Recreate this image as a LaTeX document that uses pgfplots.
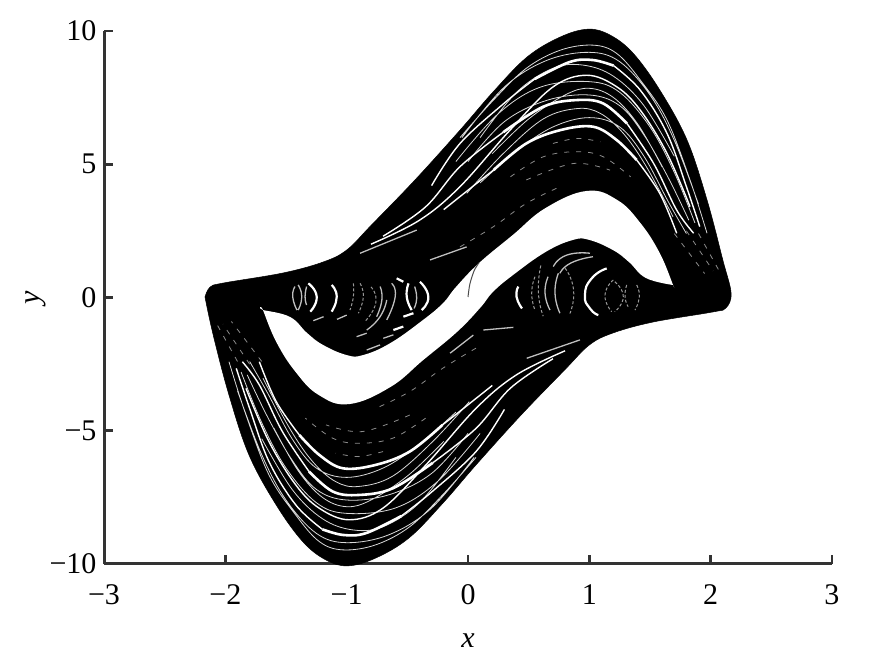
\documentclass[border=0pt]{standalone}
\usepackage{fontspec}
\setmainfont{Liberation Serif}
\usepackage{pgfplots}
\usepackage{pgfplotstable}
\pgfplotsset{compat=1.18}

% white arcs in the upper band, also drawn turned by 180 degrees for the lower band
\pgfplotstableread{
x y
.21 4.78
.48 5.78
.76 6.28
1.03 6.41
1.225 5.91
1.39 5.16
nan nan
.29 6.2
.62 7.16
.90 7.41
1.115 7.28
1.31 6.53
nan nan
.55 8.2
.84 8.84
1.03 8.91
1.2 8.7
}\bandthick
\pgfplotstableread{
x y
-.2 3.3
.07 4.28
.21 4.78
nan nan
1.39 5.16
1.58 3.91
1.72 2.41
nan nan
-.7 2.3
-.35 3.4
-.066 4.91
.29 6.2
nan nan
1.31 6.53
1.53 5.03
1.72 3.28
1.86 2.41
nan nan
-.3 4.2
-.066 5.78
.30 7.3
.55 8.2
nan nan
1.2 8.7
1.42 7.78
1.64 6.16
1.80 4.16
1.91 2.66
nan nan
-.8 2.0
-.4 2.9
-.066 4.16
.35 6.3
.70 7.9
.98 8.34
1.225 7.91
1.42 7.03
1.64 5.41
1.83 3.41
}\bandmid
\pgfplotstableread{
x y
-.066 6.0
.21 7.41
.48 8.6
.76 9.28
1.03 9.47
1.225 9.16
1.42 8.16
1.64 6.66
1.83 4.41
1.97 2.41
nan nan
-.01 3.91
.29 5.4
.62 6.7
.90 7.09
1.09 6.91
1.28 6.16
1.47 4.91
1.69 3.03
nan nan
.1 6.0
.40 7.7
.70 8.6
.95 8.72
1.2 8.3
1.45 7.2
1.7 5.3
nan nan
.2 5.4
.5 6.7
.8 7.6
1.0 7.85
1.2 7.5
1.4 6.5
1.6 4.9
nan nan
.1 4.3
.4 5.5
.7 6.4
1 6.75
1.25 6.4
1.45 5.3
1.65 3.6
1.8 2.4
nan nan
0 5.1
.3 6.6
.65 7.4
1 7.6
1.25 7.2
1.45 6.1
1.65 4.5
1.82 2.9
nan nan
-.1 5.1
.25 6.9
.6 7.9
1 8.1
1.25 7.7
1.5 6.4
1.7 4.7
1.87 2.8
nan nan
-.05 6
.3 7.9
.65 8.9
1 9.2
1.25 8.85
1.5 7.6
1.7 5.9
1.9 3.5
}\bandthin
% broken marks in the dark inner band
\pgfplotstableread{
x y
-.066 1.9
.21 2.66
.48 3.53
.76 4.16
nan nan
.48 4.41
.87 5.03
1.17 4.78
nan nan
.35 4.53
.62 5.28
.90 5.47
1.115 5.28
1.34 4.53
nan nan
.70 5.78
.90 5.97
1.09 5.84
nan nan
1.7 2.4
1.95 .9
nan nan
1.8 2.5
2.02 1.0
nan nan
1.9 2.4
2.07 1.0
}\banddash
% rings in the two lobes
\pgfplotstableread{
x y
.415 .41
.40 .03
.445 -.41
nan nan
1.143 1.09
1.02 .72
.964 .09
1.005 -.41
1.074 -.66
nan nan
-1.124 .47
-1.082 .03
-1.124 -.53
nan nan
-1.316 .53
-1.247 .03
-1.30 -.53
nan nan
-.49 .53
-.505 .03
-.464 -.47
nan nan
-.396 .59
-.327 .03
-.382 -.47
nan nan
-.588 .72
-.533 .59
nan nan
-.615 -1.22
-.533 -1.09
nan nan
-.533 -.72
-.45 -.59
}\ringthick
\pgfplotstableread{
x y
.66 .78
.635 .16
.676 -.47
nan nan
.745 .91
.717 .16
.758 -.59
nan nan
.758 .91
.85 1.3
1.03 1.53
nan nan
.703 1.16
.813 1.59
1.005 1.66
nan nan
-1.33 .41
-1.343 .03
-1.33 -.28
nan nan
-1.426 .41
-1.445 .03
-1.41 -.47
nan nan
-1.40 .47
-1.37 .03
-1.40 -.47
nan nan
-.725 .41
-.71 -.09
-.753 -.72
nan nan
-.63 .53
-.60 .03
-.67 -.84
nan nan
-.44 .41
-.423 -.03
-.445 -.41
nan nan
-.835 -1.22
-.725 -.72
-.67 -.09
nan nan
-.918 -1.47
-.835 -1.34
nan nan
-.698 -1.53
-.615 -1.4
nan nan
-.835 -1.97
-.725 -1.78
nan nan
-1.275 -.87
-1.19 -.72
nan nan
-1.08 -.82
-1.0 -.66
nan nan
.126 -1.22
.374 -1.12
nan nan
-.148 -2.09
.044 -1.41
nan nan
.484 -2.28
.923 -1.59
nan nan
-.313 1.41
-.011 1.9
nan nan
-.89 1.66
-.423 2.53
}\ringmid
\pgfplotstableread{
x y
.552 .78
.525 .16
.552 -.47
nan nan
1.198 .66
1.129 .09
1.184 -.53
nan nan
1.308 .47
1.294 .03
1.32 -.34
nan nan
1.21 .59
1.28 .03
1.21 -.53
nan nan
1.39 .47
1.412 .03
1.376 -.47
nan nan
-.945 .53
-.945 .03
-.973 -.47
nan nan
-.89 .53
-.863 .03
-.904 -.59
nan nan
.80 1.1
.87 .3
.84 -.6
nan nan
.60 1.2
.58 .2
.62 -.7
nan nan
-.80 .4
-.76 -.2
-.85 -.9
}\ringthin

\begin{document}
\begin{tikzpicture}
\begin{axis}[
    scale only axis,
    width=728pt, height=533pt,
    xmin=-3, xmax=3, ymin=-10, ymax=10,
    axis x line*=bottom, axis y line*=left,
    axis line style={-, line width=3pt, color=black!80},
    tick align=inside,
    major tick length=9pt,
    tick style={line width=2.6pt, color=black!80},
    xtick={-3,-2,-1,0,1,2,3},
    xticklabels={−3,−2,−1,0,1,2,3},
    ytick={-10,-5,0,5,10},
    yticklabels={−10,−5,0,5,10},
    tick label style={font=\fontsize{30}{30}\selectfont},
    xticklabel style={yshift=-17pt},
    yticklabel style={xshift=-4pt},
    xlabel={\textit{x}},
    ylabel={\textit{y}},
    label style={font=\fontsize{30}{30}\selectfont},
    x label style={at={(axis description cs:0.5,-0.143)},anchor=center},
    y label style={at={(axis description cs:-0.0934,0.5)},anchor=center},
    clip=false,
    unbounded coords=jump,
]
\path (rel axis cs:-0.1429,-0.1895) rectangle (rel axis cs:1.0632,1.0582);

% attractor outline
\addplot[fill=black, draw=black, line width=.5pt, smooth, tension=0.6] coordinates {
    (-2.168,.02) (-2.126,.39) (-2.02,.54) (-1.525,.92) (-1.195,1.33) (-1.0,1.78)
    (-.8,2.7) (-.437,4.41) (-.066,6.28) (.206,7.71) (.486,9.02) (.758,9.77)
    (.989,10.07) (1.17,9.85) (1.36,9.17) (1.58,7.79) (1.805,5.91) (1.97,3.66)
    (2.10,1.41) (2.168,.17) (2.126,-.39) (2.02,-.54) (1.525,-.92) (1.195,-1.33)
    (1.0,-1.78) (.8,-2.7) (.437,-4.41) (.066,-6.28) (-.206,-7.71) (-.486,-9.02)
    (-.758,-9.77) (-.989,-10.07) (-1.17,-9.85) (-1.36,-9.17) (-1.58,-7.79)
    (-1.805,-5.91) (-1.97,-3.66) (-2.10,-1.41) (-2.168,.02)
};
% white S in the middle
\addplot[fill=white, draw=none, smooth, tension=0.7] coordinates {
    (1.69,.47) (1.69,.47) (1.58,1.67) (1.42,2.80) (1.23,3.66) (.98,4.0) (.64,3.36) (.37,2.35)
    (.09,1.29) (-.10,.39) (-.206,-.21) (-.37,-.84) (-.64,-1.71) (-.865,-2.16)
    (-1.0,-2.16) (-1.195,-1.78) (-1.327,-1.33) (-1.467,-.73) (-1.69,-.47) (-1.69,-.47)
    (-1.58,-1.67) (-1.42,-2.80) (-1.23,-3.66) (-.98,-4.0) (-.64,-3.36) (-.37,-2.35)
    (-.09,-1.29) (.10,-.39) (.206,.21) (.37,.84) (.64,1.71) (.865,2.16) (1.0,2.16)
    (1.195,1.78) (1.327,1.33) (1.467,.73) (1.69,.47)
};

% upper band
\addplot[white!85!black, line width=.8pt, smooth, tension=.6] table {\bandthin};
\addplot[white, line width=1.4pt, smooth, tension=.6] table {\bandmid};
\addplot[white, line width=2.6pt, smooth, tension=.6] table {\bandthick};
\addplot[white!55!black, line width=.8pt, smooth, tension=.6, dash pattern=on 5pt off 7pt] table {\banddash};
% lower band
\addplot[white!85!black, line width=.8pt, smooth, tension=.6] table[x expr=-\thisrow{x}, y expr=-\thisrow{y}] {\bandthin};
\addplot[white, line width=1.4pt, smooth, tension=.6] table[x expr=-\thisrow{x}, y expr=-\thisrow{y}] {\bandmid};
\addplot[white, line width=2.6pt, smooth, tension=.6] table[x expr=-\thisrow{x}, y expr=-\thisrow{y}] {\bandthick};
\addplot[white!55!black, line width=.8pt, smooth, tension=.6, dash pattern=on 5pt off 7pt] table[x expr=-\thisrow{x}, y expr=-\thisrow{y}] {\banddash};

% lobes
\addplot[white!60!black, line width=1pt, smooth, tension=1, dash pattern=on 3pt off 2pt] table {\ringthin};
\addplot[white!75!black, line width=1.3pt, smooth, tension=1] table {\ringmid};
\addplot[white, line width=2.2pt, smooth, tension=1] table {\ringthick};

% start of the trajectory
\addplot[black!70, line width=1pt, smooth] coordinates {(0,.02) (.015,.5) (.05,1.0) (.09,1.3)};
\end{axis}
\end{tikzpicture}
\end{document}
